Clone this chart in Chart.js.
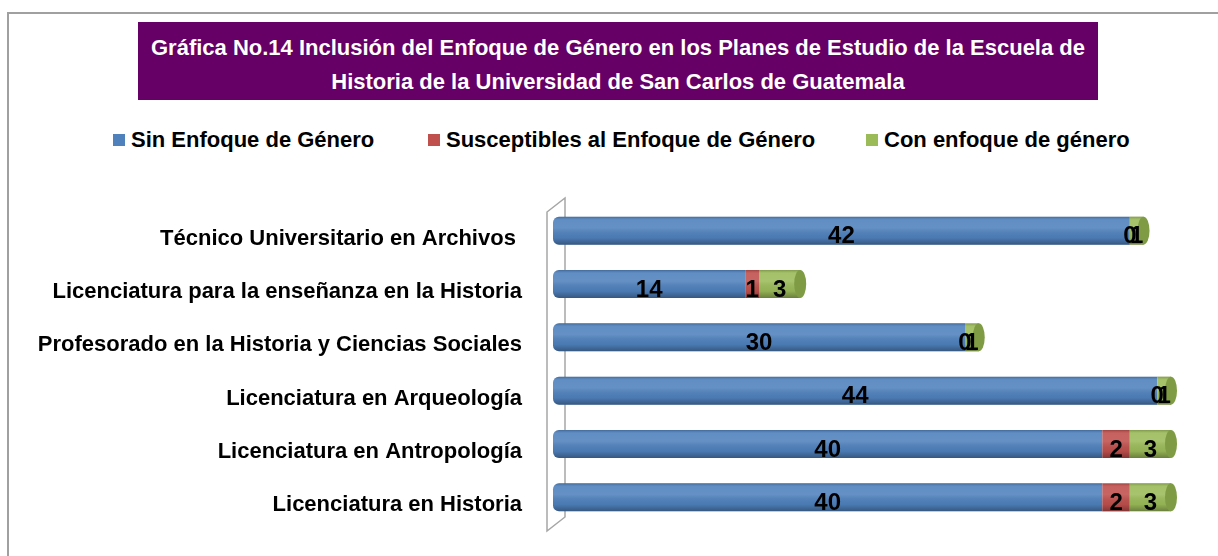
<!DOCTYPE html>
<html>
<head>
<meta charset="utf-8">
<script src="https://cdn.jsdelivr.net/npm/chart.js@4"></script>
<style>
  html, body { margin: 0; padding: 0; background: #fff; }
  #wrap { position: relative; width: 1218px; height: 556px; overflow: hidden; }
  #frame { position: absolute; left: 7px; top: 12px; width: 1300px; height: 600px;
           border-top: 2px solid #a0a0a0; border-left: 2px solid #a0a0a0; }
  #title { position: absolute; left: 138px; top: 22px; width: 960px; height: 78px;
           background: #660066; color: #fff; text-align: center;
           font: bold 22px "Liberation Sans", sans-serif;
           line-height: 34px; padding-top: 9px; box-sizing: border-box; white-space: nowrap; }
  #legend { position: absolute; top: 126px; left: 0; width: 1218px; height: 30px;
            font: bold 22px "Liberation Sans", sans-serif; }
  .item { position: absolute; top: 0; line-height: 28px; white-space: nowrap; }
  .sw { display: inline-block; width: 12px; height: 12px; margin-right: 6px; vertical-align: 1px; }
  canvas { position: absolute; left: 0; top: 0; }
</style>
</head>
<body>
<div id="wrap">
  <div id="frame"></div>
  <div id="title">Gráfica No.14 Inclusión del Enfoque de Género en los Planes de Estudio de la Escuela de<br>Historia de la Universidad de San Carlos de Guatemala</div>
  <div id="legend"></div>
  <canvas id="chart" width="1218" height="556"></canvas>
</div>
<script>
// --- data ---
const categories = [
  "Técnico Universitario en Archivos ",
  "Licenciatura para la enseñanza en la Historia",
  "Profesorado en la Historia y Ciencias Sociales",
  "Licenciatura en Arqueología",
  "Licenciatura en Antropología",
  "Licenciatura en Historia",
];
const seriesNames = ["Sin Enfoque de Género", "Susceptibles al Enfoque de Género", "Con enfoque de género"];
const sinEnfoque = [42, 14, 30, 44, 40, 40];
const susceptibles = [0, 1, 0, 0, 2, 2];
const conEnfoque = [1, 3, 1, 1, 3, 3];

const COLORS = ["#4F81BD", "#C0504D", "#9BBB59"];
const CAPS = ["#3f6da3", "#a33f3c", "#7f9c45"];
const FONT = '"Liberation Sans", sans-serif';

// legend (html)
const legendPos = [113, 428, 866];
const legend = document.getElementById("legend");
seriesNames.forEach((name, i) => {
  const el = document.createElement("div");
  el.className = "item";
  el.style.left = legendPos[i] + "px";
  el.innerHTML = `<span class="sw" style="background:${COLORS[i]}"></span>${name}`;
  legend.appendChild(el);
});

// left 3D wall behind the bars
const wallPlugin = {
  id: "wall",
  beforeDatasetsDraw(chart) {
    const { ctx, chartArea: a } = chart;
    ctx.save();
    ctx.strokeStyle = "#a6a6a6";
    ctx.lineWidth = 1.5;
    ctx.beginPath();
    ctx.moveTo(a.left - 6, a.top + 8);
    ctx.lineTo(a.left + 12, a.top - 6);
    ctx.lineTo(a.left + 12, a.bottom - 7);
    ctx.lineTo(a.left - 6, a.bottom + 7);
    ctx.closePath();
    ctx.stroke();
    ctx.restore();
  },
};

// cylinder look + value labels
const cylinderPlugin = {
  id: "cylinder",
  afterDatasetsDraw(chart) {
    const { ctx } = chart;
    const n = chart.data.labels.length;
    ctx.save();
    for (let i = 0; i < n; i++) {
      let lastEnd = null, lastIdx = 0, yc = 0, h = 0;
      chart.data.datasets.forEach((ds, d) => {
        const bar = chart.getDatasetMeta(d).data[i];
        const x0 = Math.min(bar.base, bar.x), x1 = Math.max(bar.base, bar.x);
        yc = bar.y; h = bar.height;
        const top = yc - h / 2;
        if (x1 - x0 > 0) {
          ctx.beginPath();
          if (d === 0) ctx.roundRect(x0, top, x1 - x0, h, [6, 0, 0, 6]);
          else ctx.rect(x0, top, x1 - x0, h);
          ctx.fillStyle = COLORS[d];
          ctx.fill();
          const g = ctx.createLinearGradient(0, top, 0, top + h);
          g.addColorStop(0, "rgba(0,0,0,0.18)");
          g.addColorStop(0.12, "rgba(255,255,255,0.10)");
          g.addColorStop(0.4, "rgba(255,255,255,0.12)");
          g.addColorStop(0.75, "rgba(0,0,0,0.05)");
          g.addColorStop(1, "rgba(0,0,0,0.32)");
          ctx.fillStyle = g;
          ctx.fill();
          lastEnd = x1; lastIdx = d;
        }
      });
      if (lastEnd !== null) {
        ctx.beginPath();
        ctx.ellipse(lastEnd, yc, 6, h / 2, 0, 0, Math.PI * 2);
        ctx.fillStyle = CAPS[lastIdx];
        ctx.fill();
      }
      // labels
      ctx.fillStyle = "#000";
      ctx.font = "bold 24px " + FONT;
      ctx.textAlign = "center";
      ctx.textBaseline = "middle";
      chart.data.datasets.forEach((ds, d) => {
        const bar = chart.getDatasetMeta(d).data[i];
        ctx.fillText(String(ds.data[i]), (bar.base + bar.x) / 2, bar.y + 6);
      });
    }
    ctx.restore();
  },
};

new Chart(document.getElementById("chart").getContext("2d"), {
  type: "bar",
  data: {
    labels: categories,
    datasets: [
      { label: seriesNames[0], data: sinEnfoque },
      { label: seriesNames[1], data: susceptibles },
      { label: seriesNames[2], data: conEnfoque },
    ].map((ds) => ({ ...ds, backgroundColor: "rgba(0,0,0,0)", barThickness: 28 })),
  },
  options: {
    indexAxis: "y",
    responsive: false,
    animation: false,
    layout: { padding: { left: 0, top: 204, right: 47, bottom: 32 } },
    plugins: { legend: { display: false }, tooltip: { enabled: false } },
    scales: {
      x: { stacked: true, min: 0, max: 45, display: false },
      y: {
        stacked: true,
        grid: { display: false, drawTicks: false },
        border: { display: false },
        afterFit: (scale) => {
          scale.width = 553;
          scale.paddingTop = 0;
          scale.paddingBottom = 0;
        },
        ticks: { color: "#000", padding: 31, labelOffset: 8, font: { family: FONT, size: 22, weight: "bold" } },
      },
    },
  },
  plugins: [wallPlugin, cylinderPlugin],
});
</script>
</body>
</html>
